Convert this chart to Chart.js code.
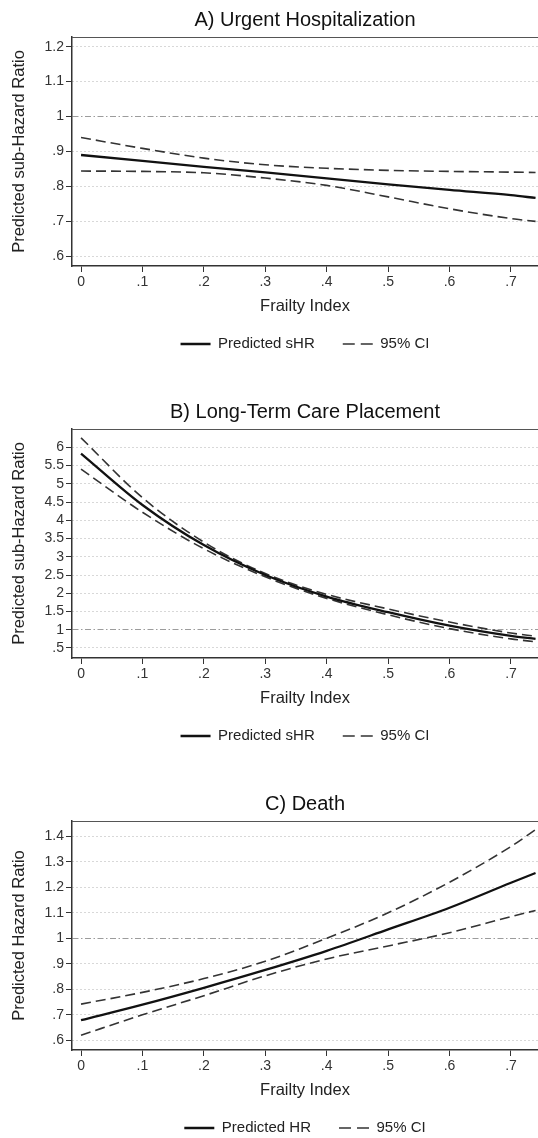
<!DOCTYPE html>
<html>
<head>
<meta charset="utf-8">
<script src="https://cdn.jsdelivr.net/npm/chart.js@4.4.0/dist/chart.umd.min.js"></script>
<style>
  html, body { margin: 0; padding: 0; background: #fff; overflow: hidden; }
  canvas { position: absolute; left: 0; }
</style>
</head>
<body>
<canvas id="chartA" width="538" height="392" style="top:0px"></canvas>
<canvas id="chartB" width="538" height="392" style="top:392px"></canvas>
<canvas id="chartC" width="538" height="354" style="top:784px"></canvas>
<script>
// frailty index values where the curves were read
const frailty = [0, 0.1, 0.2, 0.3, 0.4, 0.5, 0.6, 0.7, 0.74];
const xTicks = [0, 0.1, 0.2, 0.3, 0.4, 0.5, 0.6, 0.7];

// A) urgent hospitalization
const hospPred  = [0.890, 0.873, 0.856, 0.840, 0.823, 0.806, 0.790, 0.775, 0.767];
const hospUpper = [0.940, 0.909, 0.881, 0.862, 0.852, 0.846, 0.843, 0.841, 0.840];
const hospLower = [0.844, 0.843, 0.839, 0.824, 0.803, 0.770, 0.736, 0.708, 0.700];
const hospTicks = [0.6, 0.7, 0.8, 0.9, 1, 1.1, 1.2];

// B) long-term care placement
const ltcPred  = [5.83, 4.42, 3.32, 2.50, 1.91, 1.48, 1.11, 0.83, 0.75];
const ltcUpper = [6.26, 4.62, 3.40, 2.54, 1.97, 1.57, 1.21, 0.91, 0.82];
const ltcLower = [5.40, 4.22, 3.22, 2.45, 1.86, 1.41, 1.03, 0.75, 0.67];
const ltcTicks = [0.5, 1, 1.5, 2, 2.5, 3, 3.5, 4, 4.5, 5, 5.5, 6];

// C) death
const deathPred  = [0.679, 0.740, 0.806, 0.876, 0.951, 1.035, 1.120, 1.218, 1.256];
const deathUpper = [0.742, 0.788, 0.842, 0.910, 1.000, 1.100, 1.220, 1.360, 1.426];
const deathLower = [0.620, 0.700, 0.775, 0.853, 0.919, 0.970, 1.022, 1.085, 1.109];
const deathTicks = [0.6, 0.7, 0.8, 0.9, 1, 1.1, 1.2, 1.3, 1.4];

const FONT = "'Liberation Sans', Arial, sans-serif";
Chart.defaults.font.family = FONT;

// stata style labels: .5 instead of 0.5
function fmt(v) {
    return String(v).replace(/^0\./, '.');
}

function pts(ys) {
    return frailty.map((x, i) => ({ x: x, y: ys[i] }));
}

// legend samples take dash/width from the dataset line, not the point
function legendItems(chart) {
    const items = Chart.defaults.plugins.legend.labels.generateLabels(chart);
    return items.filter(it => it.datasetIndex < 2).map(it => {
        const ds = chart.data.datasets[it.datasetIndex];
        it.lineDash = ds.borderDash ? [12, 6] : [];
        it.lineWidth = ds.borderWidth;
        it.strokeStyle = ds.borderColor;
        return it;
    });
}

// top edge of the plot box
const frameTop = {
    id: 'frameTop',
    beforeDatasetsDraw(chart) {
        const a = chart.chartArea, c = chart.ctx;
        c.save();
        c.strokeStyle = '#555';
        c.lineWidth = 1.2;
        c.beginPath();
        c.moveTo(a.left, a.top + 0.5);
        c.lineTo(a.right, a.top + 0.5);
        c.stroke();
        c.restore();
    }
};

function makePanel(id, title, yTitle, predLabel, pred, upper, lower, yTicks, yMin, yMax, padBottom) {
    const ciStyle = {
        borderColor: '#333',
        borderWidth: 1.6,
        borderDash: [10, 5],
        pointRadius: 0,
        fill: false,
        cubicInterpolationMode: 'monotone',
        backgroundColor: 'transparent'
    };
    return new Chart(document.getElementById(id), {
        type: 'line',
        data: {
            datasets: [
                { label: predLabel, data: pts(pred), borderColor: '#111', borderWidth: 2.3,
                  pointRadius: 0, fill: false, cubicInterpolationMode: 'monotone', backgroundColor: 'transparent' },
                Object.assign({ label: '95% CI', data: pts(upper) }, ciStyle),
                Object.assign({ label: '95% CI', data: pts(lower) }, ciStyle)
            ]
        },
        options: {
            responsive: false,
            animation: false,
            events: [],
            layout: { padding: { top: 0, left: 0, right: 0, bottom: padBottom } },
            plugins: {
                title: {
                    display: true, text: title, fullSize: false, color: '#111',
                    font: { size: 20, weight: 'normal' },
                    padding: { top: 8, bottom: 5 }
                },
                legend: {
                    position: 'bottom', fullSize: false, maxHeight: 45,
                    labels: {
                        usePointStyle: true, pointStyle: 'line', pointStyleWidth: 30,
                        padding: 28, color: '#222', font: { size: 15 },
                        generateLabels: legendItems
                    }
                },
                tooltip: { enabled: false }
            },
            scales: {
                x: {
                    type: 'linear', min: -0.0147, max: 0.744,
                    afterBuildTicks: s => { s.ticks = xTicks.map(v => ({ value: v })); },
                    afterFit: s => { s.height = 42.5; },
                    grid: { drawOnChartArea: false, drawTicks: true, tickLength: 6, tickColor: '#333' },
                    border: { color: '#333', width: 1.5 },
                    ticks: { autoSkip: false, maxRotation: 0, padding: 2, color: '#333',
                             font: { size: 14 }, callback: v => fmt(v) },
                    title: { display: true, text: 'Frailty Index', color: '#222',
                             font: { size: 16.5 }, padding: { top: 0, bottom: -7.4 } }
                },
                y: {
                    min: yMin, max: yMax,
                    afterBuildTicks: s => { s.ticks = yTicks.map(v => ({ value: v })); },
                    afterFit: s => { s.width = 72; },
                    grid: {
                        color: c => (c.tick && c.tick.value === 1) ? '#9c9c9c' : '#b0b0b0',
                        lineWidth: 1, drawTicks: true, tickLength: 6, tickColor: '#333'
                    },
                    border: {
                        color: '#333', width: 1.5,
                        dash: c => !c.tick ? [] : (c.tick.value === 1 ? [6, 2.5, 1.5, 2.5] : [1, 3])
                    },
                    ticks: { autoSkip: false, padding: 2, color: '#333',
                             font: { size: 14 }, callback: v => fmt(v) },
                    title: { display: true, text: yTitle, color: '#222',
                             font: { size: 16.5 }, padding: { top: 10, bottom: 0 } }
                }
            }
        },
        plugins: [frameTop]
    });
}

makePanel('chartA', 'A) Urgent Hospitalization', 'Predicted sub-Hazard Ratio', 'Predicted sHR',
    hospPred, hospUpper, hospLower, hospTicks, 0.5722, 1.2278, 38.5);
makePanel('chartB', 'B) Long-Term Care Placement', 'Predicted sub-Hazard Ratio', 'Predicted sHR',
    ltcPred, ltcUpper, ltcLower, ltcTicks, 0.2256, 6.502, 38.5);
makePanel('chartC', 'C) Death', 'Predicted Hazard Ratio', 'Predicted HR',
    deathPred, deathUpper, deathLower, deathTicks, 0.562, 1.46, 0.5);
</script>
</body>
</html>
